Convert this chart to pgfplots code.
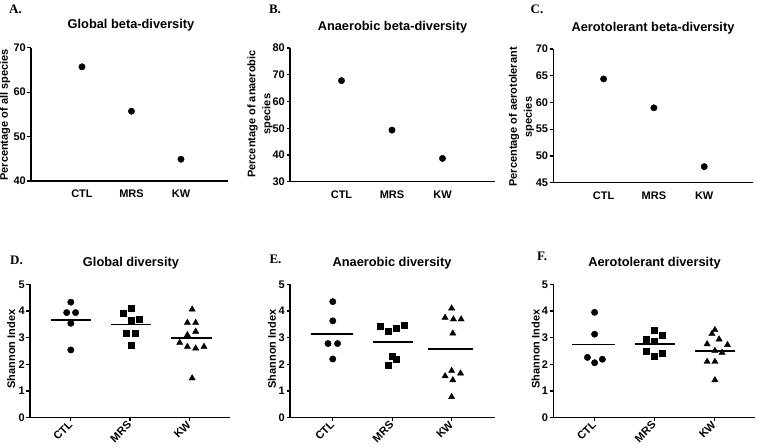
\documentclass[border=0pt]{standalone}
\usepackage{pgfplots}
\pgfplotsset{compat=1.18}
\usepackage{fontspec}
\setmainfont{Liberation Sans}
\newfontfamily\serifbf{Liberation Serif}
\begin{document}
\begin{tikzpicture}[x=1pt,y=1pt]
\useasboundingbox (0,0) rectangle (757,447);
\pgfplotsset{
  base/.style={scale only axis, axis x line*=bottom, axis y line*=left,
    axis line style={line width=1.5pt, black},
    tick style={black, line width=1.1pt},
    tick align=outside, major tick length=3.5pt, minor tick num=0,
    ticklabel style={font=\fontsize{11}{13}\selectfont\bfseries, inner sep=1.5pt},
    /pgf/number format/assume math mode=true,
    xtick={1,2,3}, xticklabels={CTL,MRS,KW},
    clip=false, anchor=south west},
  top/.style={base, xtick style={draw=none}, xticklabel style={yshift=-4pt}},
  bot/.style={base, ymin=0, ymax=5, ytick={0,1,2,3,4,5},
    xticklabel style={rotate=45, anchor=east, yshift=-1pt}},
  dot/.style={only marks, mark=*, mark size=3.2pt, black},
  sq/.style={only marks, mark=square*, mark size=3pt, black},
  tri/.style={only marks, mark=triangle*, mark size=3.6pt, black},
  mean/.style={black, line width=1.6pt, no marks},
}
\tikzset{
  ttl/.style={font=\fontsize{12.8}{15}\selectfont\bfseries},
  lab/.style={font=\fontsize{11}{15}\selectfont\bfseries, rotate=90, align=center},
  let/.style={font=\serifbf\fontsize{13}{15}\selectfont\bfseries},
}
% ---------- Panel A ----------
\begin{axis}[top, at={(31pt,266pt)}, width=197pt, height=133.3pt,
  xmin=-0.03, xmax=3.95, ymin=40, ymax=70, ytick={40,50,60,70}]
\addplot[dot] coordinates {(1,65.7) (2,55.7) (3,44.9)};
\end{axis}
\node[let] at (15.5,438) {A.};
\node[ttl] at (131,422) {Global beta-diversity};
\node[lab] at (5,332) {Percentage of all species};
% ---------- Panel B ----------
\begin{axis}[top, at={(290pt,265.3pt)}, width=205pt, height=133.7pt,
  xmin=-0.02, xmax=4.04, ymin=30, ymax=80, ytick={30,40,50,60,70,80}]
\addplot[dot] coordinates {(1,67.8) (2,49.3) (3,38.7)};
\end{axis}
\node[let] at (275,438) {B.};
\node[ttl] at (392.5,420.3) {Anaerobic beta-diversity};
\node[lab] at (260,333) {Percentage of anaerobic\\species};
% ---------- Panel C ----------
\begin{axis}[top, at={(553.3pt,264.3pt)}, width=199.7pt, height=133.7pt,
  xmin=0, xmax=3.97, ymin=45, ymax=70, ytick={45,50,55,60,65,70}]
\addplot[dot] coordinates {(1,64.4) (2,59.0) (3,48.0)};
\end{axis}
\node[let] at (537,438) {C.};
\node[ttl] at (653,419) {Aerotolerant beta-diversity};
\node[lab] at (521.5,330) {Percentage of aerotolerant\\species};
% ---------- Panel D ----------
\begin{axis}[bot, at={(30pt,29.3pt)}, width=200pt, height=133.4pt,
  xmin=0.31, xmax=3.69]
\addplot[dot] coordinates {(1,4.33) (0.93,3.94) (1.08,3.94) (1,3.54) (1,2.54)};
\addplot[mean] coordinates {(0.66,3.66) (1.34,3.66)};
\addplot[sq] coordinates {(2.02,4.10) (1.89,3.90) (2.16,3.70) (2.02,3.66) (1.93,3.18) (2.09,3.18) (2.02,2.70)};
\addplot[mean] coordinates {(1.68,3.49) (2.36,3.49)};
\addplot[tri] coordinates {(3.05,4.06) (2.97,3.56) (3.11,3.56) (3.11,3.23) (2.97,3.10) (2.84,2.81) (2.97,2.66) (3.11,2.60) (3.25,2.66) (3.05,1.48)};
\addplot[mean] coordinates {(2.70,2.98) (3.38,2.98)};
\end{axis}
\node[let] at (16.5,186.5) {D.};
\node[ttl] at (131,183.7) {Global diversity};
\node[lab] at (11.3,98) {Shannon Index};
% ---------- Panel E ----------
\begin{axis}[bot, at={(290pt,29.3pt)}, width=205pt, height=133.4pt,
  xmin=0.28, xmax=3.73]
\addplot[dot] coordinates {(1,4.35) (1,3.63) (0.92,2.78) (1.08,2.78) (1,2.20)};
\addplot[mean] coordinates {(0.64,3.14) (1.34,3.14)};
\addplot[sq] coordinates {(1.80,3.44) (1.93,3.23) (2.07,3.35) (2.20,3.47) (2.00,2.31) (2.06,2.20) (1.94,1.95)};
\addplot[mean] coordinates {(1.67,2.83) (2.35,2.83)};
\addplot[tri] coordinates {(3,4.10) (2.89,3.75) (3.03,3.69) (3.16,3.69) (3.02,3.16) (3.0,1.76) (2.89,1.56) (3.02,1.41) (3.15,1.66) (3.0,0.78)};
\addplot[mean] coordinates {(2.61,2.58) (3.36,2.58)};
\end{axis}
\node[let] at (275.5,188) {E.};
\node[ttl] at (392,183.7) {Anaerobic diversity};
\node[lab] at (272,98) {Shannon Index};
% ---------- Panel F ----------
\begin{axis}[bot, at={(553.3pt,29.3pt)}, width=201.7pt, height=133.4pt,
  xmin=0.31, xmax=3.68]
\addplot[dot] coordinates {(1,3.95) (1,3.13) (0.88,2.26) (1.13,2.19) (1,2.06)};
\addplot[mean] coordinates {(0.63,2.75) (1.34,2.75)};
\addplot[sq] coordinates {(2.0,3.29) (2.13,3.08) (1.87,2.94) (2.0,2.88) (1.87,2.48) (2.0,2.31) (2.13,2.41)};
\addplot[mean] coordinates {(1.68,2.76) (2.35,2.76)};
\addplot[tri] coordinates {(3.01,3.29) (2.96,3.14) (3.08,2.94) (2.88,2.76) (3.22,2.73) (3.01,2.51) (3.13,2.44) (2.88,2.10) (3.01,2.10) (3.01,1.41)};
\addplot[mean] coordinates {(2.68,2.51) (3.35,2.51)};
\end{axis}
\node[let] at (542,191) {F.};
\node[ttl] at (654.5,183.7) {Aerotolerant diversity};
\node[lab] at (535.7,98) {Shannon Index};
\end{tikzpicture}
\end{document}
